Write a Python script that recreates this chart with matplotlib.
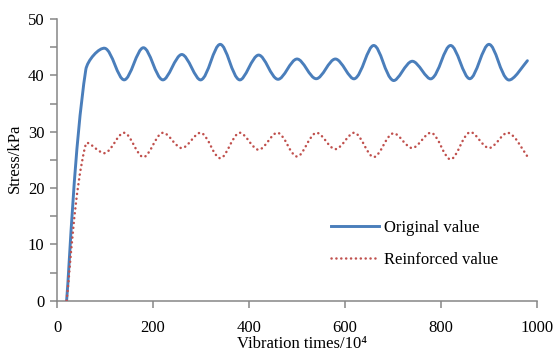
import numpy as np
import matplotlib
matplotlib.use("Agg")
import matplotlib.pyplot as plt
from matplotlib.path import Path
from matplotlib.patches import PathPatch
from matplotlib.lines import Line2D

plt.rcParams['font.family'] = ['Liberation Serif', 'DejaVu Serif']

# Data
vibration_times = [20, 60, 100, 140, 180, 220, 260, 300, 340, 380, 420, 460, 500,
                   540, 580, 620, 660, 700, 740, 780, 820, 860, 900, 940, 980]
original_value = [0, 41.0, 44.8, 39.2, 44.9, 39.2, 43.7, 39.2, 45.5, 39.2, 43.6, 39.3, 42.9,
                  39.4, 42.9, 39.4, 45.3, 39.1, 42.5, 39.4, 45.3, 39.4, 45.5, 39.2, 42.6]
reinforced_value = [0, 27.8, 26.2, 29.8, 25.5, 29.8, 27.1, 29.8, 25.3, 29.8, 26.8, 29.8, 25.6,
                    29.8, 26.9, 29.8, 25.5, 29.7, 27.1, 29.8, 25.1, 29.9, 27.1, 29.8, 25.6]
series_labels = ["Original value", "Reinforced value"]
x_ticks = [0, 200, 400, 600, 800, 1000]
y_ticks = [0, 10, 20, 30, 40, 50]

W, H = 555, 354
fig = plt.figure(figsize=(W / 100, H / 100), dpi=100)
ax = fig.add_axes([57 / W, (H - 300.7) / H, (537 - 57) / W, (300.7 - 19) / H])
ax.set_xlim(0, 1000)
ax.set_ylim(0, 50)


def smooth_path(xs, ys):
    """Excel-like smoothed line: cubic Bezier segments computed in display space."""
    disp = ax.transData.transform(np.column_stack([xs, ys]).astype(float))
    n = len(disp)
    verts = [disp[0]]
    codes = [Path.MOVETO]
    for i in range(n - 1):
        p0 = disp[i - 1] if i > 0 else disp[i]
        p1 = disp[i]
        p2 = disp[i + 1]
        p3 = disp[i + 2] if i + 2 < n else disp[i + 1]
        d01 = np.hypot(*(p1 - p0))
        d12 = np.hypot(*(p2 - p1))
        d23 = np.hypot(*(p3 - p2))
        r1 = d12 / (d01 + d12) if d01 + d12 > 0 else 0.5
        r2 = d12 / (d12 + d23) if d12 + d23 > 0 else 0.5
        if i == 0:
            r1 = 0.5
        if i + 2 >= n:
            r2 = 0.5
        c1 = p1 + (p2 - p0) * r1 / 3.0
        c2 = p2 - (p3 - p1) * r2 / 3.0
        verts += [c1, c2, p2]
        codes += [Path.CURVE4] * 3
    data = ax.transData.inverted().transform(np.array(verts))
    return Path(data, codes)


blue = '#4A7EBB'
red = '#C0504D'
dot_style = (0, (0.05, 1.9))

p1 = PathPatch(smooth_path(vibration_times, original_value), facecolor='none',
               edgecolor=blue, linewidth=2.1, capstyle='round', joinstyle='round', zorder=3)
ax.add_patch(p1)
p2 = PathPatch(smooth_path(vibration_times, reinforced_value), facecolor='none',
               edgecolor=red, linewidth=1.8, linestyle=dot_style, capstyle='round', zorder=3)
ax.add_patch(p2)

ax.set_xticks(x_ticks)
ax.set_yticks(y_ticks)
ax.set_yticks(np.arange(5, 50, 10), minor=True)

for s in ['top', 'right']:
    ax.spines[s].set_visible(False)
for s in ['left', 'bottom']:
    ax.spines[s].set_color('#868686')
    ax.spines[s].set_linewidth(1.1)

ax.tick_params(axis='both', which='both', direction='out', color='#868686', width=1.1,
               length=5, labelsize=12, labelcolor='black')
ax.tick_params(axis='x', pad=8.8)
ax.tick_params(axis='y', pad=4)

fig.text(302 / W, 1 - 344.5 / H, 'Vibration times/10\u2074', ha='center', va='center', fontsize=12)
fig.text(15 / W, 1 - 158 / H, 'Stress/kPa', ha='center', va='center', fontsize=12, rotation=90)

handles = [Line2D([], [], color=blue, linewidth=2.1),
           Line2D([], [], color=red, linewidth=1.8, linestyle=dot_style, dash_capstyle='round')]
ax.legend(handles, series_labels, loc='upper left', bbox_to_anchor=(331 / W, 1 - 220 / H),
          bbox_transform=fig.transFigure, frameon=False, fontsize=12, handlelength=2.9,
          handletextpad=0.3, labelspacing=0.93, borderpad=0, borderaxespad=0)

fig.savefig('out.png', dpi=100)
